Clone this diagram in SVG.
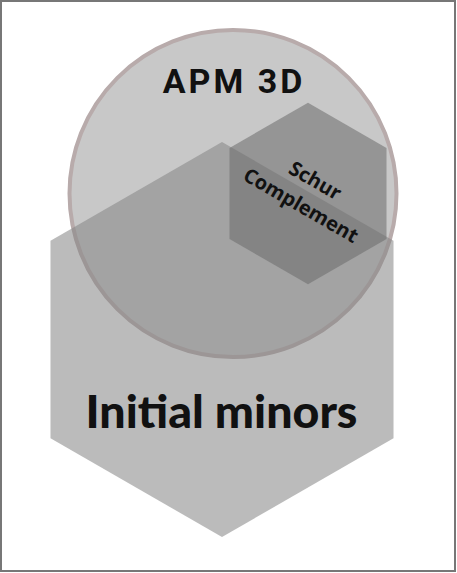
<svg xmlns="http://www.w3.org/2000/svg" width="457" height="573" viewBox="0 0 457 573">
<style>
.lbl{font-family:"Open Sans","Noto Sans","DejaVu Sans",sans-serif;font-weight:700;fill:#111;text-anchor:middle}
.big{font-family:Lato,"Open Sans",sans-serif;font-weight:900;fill:#111;text-anchor:middle}
.apm{font-family:Roboto,"Liberation Sans",sans-serif;font-weight:700;fill:#111;text-anchor:middle}
</style>
<rect x="1" y="1" width="454" height="570" fill="#fff" stroke="#777" stroke-width="2"/>
<g id="apm3d">
<circle cx="233" cy="193.5" r="163.5" fill="#c8c8c8" stroke="#b8abab" stroke-width="4"/>
<text class="apm" x="234" y="93" font-size="34" letter-spacing="3">APM 3D</text>
</g>
<g id="initial-minors">
<polygon points="222,142 393.5,240.75 393.5,438.25 222,537 50.5,438.25 50.5,240.75" fill="#868686" fill-opacity="0.56"/>
<text class="big" x="221.5" y="428" font-size="46.5">Initial minors</text>
</g>
<g id="schur">
<polygon points="308,102.7 386.5,148 386.5,239 308,284.3 229.5,239 229.5,148" fill="#6c6c6c" fill-opacity="0.556"/>
<g transform="translate(307.5,194) rotate(30)">
<text class="lbl" x="0" y="-8.5" font-size="20">Schur</text>
<text class="lbl" x="0" y="20" font-size="20">Complement</text>
</g>
</g>
<g id="connectors"/>
</svg>
